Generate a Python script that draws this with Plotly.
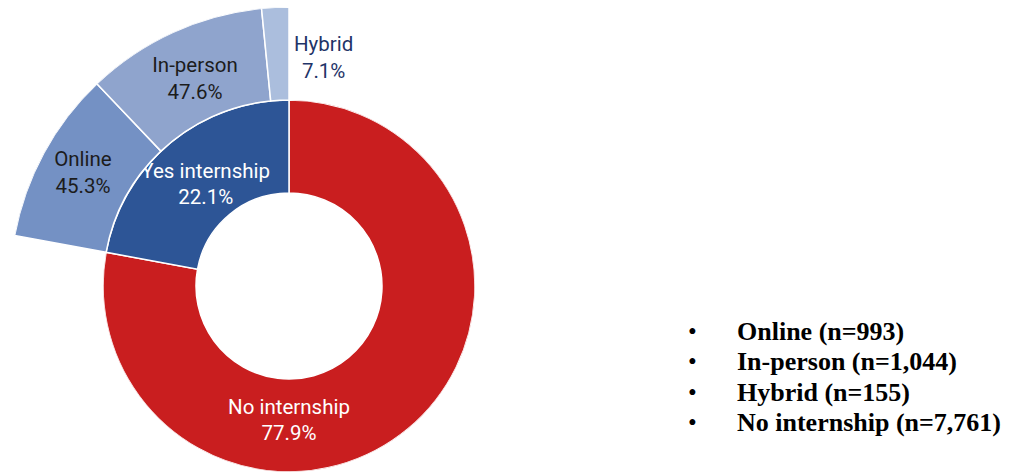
import plotly.graph_objects as go

# Inner ring: internship status (share of all students, %)
status_labels = ["No internship", "Yes internship"]
status_pct = [77.9, 22.1]
status_colors = ["#C91E1F", "#2D5596"]

# Outer ring: format of the internship (share of internships, %)
format_labels = ["Online", "In-person", "Hybrid"]
format_pct = [45.3, 47.6, 7.1]
format_colors = ["#7491C4", "#8FA4CD", "#ABBEDD"]

# Right-hand key with respondent counts
key_labels = ["Online", "In-person", "Hybrid", "No internship"]
key_counts = [993, 1044, 155, 7761]

W, H = 1010, 472
CX, CY = 289, 286          # ring centre, px from left / top
R1 = 186                   # outer radius of the inner ring, px
R2 = R1 * 1.5              # outer radius of the outer ring, px

# angles measured clockwise from 12 o'clock
status_width = [p * 3.6 for p in status_pct]
status_theta, start = [], 0.0
for w in status_width:
    status_theta.append(start + w / 2)
    start += w
yes_start = status_width[0]
yes_span = status_width[1]

format_width = [yes_span * p / 100 for p in format_pct]
format_theta, start = [], yes_start
for w in format_width:
    format_theta.append(start + w / 2)
    start += w

label_font = dict(family="Roboto", size=20.5)

fig = go.Figure()

fig.add_trace(go.Barpolar(
    r=[1, 1], base=[1, 1], theta=status_theta, width=status_width,
    marker=dict(color=status_colors, line=dict(color="white", width=1.5)),
    subplot="polar", hoverinfo="skip", showlegend=False,
))
fig.add_trace(go.Barpolar(
    r=[1, 1, 1], base=[2, 2, 2], theta=format_theta, width=format_width,
    marker=dict(color=format_colors, line=dict(color="white", width=1.5)),
    subplot="polar2", hoverinfo="skip", showlegend=False,
))

# ring labels
status_text = [f"{l}<br>{p}%" for l, p in zip(status_labels, status_pct)]
fig.add_trace(go.Scatterpolar(
    r=[1.46, 1.4], theta=[180, status_theta[1]], mode="text",
    text=status_text, textfont=dict(color="white", **label_font),
    subplot="polar", cliponaxis=False, hoverinfo="skip", showlegend=False,
))
format_text = [f"{l}<br>{p}%" for l, p in zip(format_labels, format_pct)]
fig.add_trace(go.Scatterpolar(
    r=[2.52, 2.43], theta=format_theta[:2], mode="text",
    text=format_text[:2], textfont=dict(color="#1c1c1c", **label_font),
    subplot="polar2", cliponaxis=False, hoverinfo="skip", showlegend=False,
))
# the thin Hybrid slice gets its label just outside, to the right
fig.add_annotation(
    x=(CX + 34) / W, y=1 - 57 / H, xref="paper", yref="paper",
    text=format_text[2], showarrow=False, xanchor="center", yanchor="middle",
    font=dict(color="#1F3468", **label_font),
)

hidden_radial = dict(visible=False, showgrid=False, showline=False, showticklabels=False, ticks="")
hidden_angular = dict(showgrid=False, showline=False, showticklabels=False, ticks="",
                      direction="clockwise", rotation=90)

fig.update_layout(
    width=W, height=H,
    margin=dict(l=0, r=0, t=0, b=0),
    paper_bgcolor="white", plot_bgcolor="white",
    polar=dict(
        domain=dict(x=[(CX - R1) / W, (CX + R1) / W],
                    y=[(H - CY - R1) / H, (H - CY + R1) / H]),
        radialaxis=dict(range=[0, 2], **hidden_radial),
        angularaxis=hidden_angular,
        bgcolor="rgba(0,0,0,0)",
    ),
    polar2=dict(
        sector=[90, 180],
        domain=dict(x=[(CX - R2) / W, CX / W],
                    y=[(H - CY) / H, (H - CY + R2) / H]),
        radialaxis=dict(range=[0, 3], **hidden_radial),
        angularaxis=hidden_angular,
        bgcolor="rgba(0,0,0,0)",
    ),
)

# bulleted key
key_font = dict(family="Liberation Serif", size=26, color="black")
for i, (lab, n) in enumerate(zip(key_labels, key_counts)):
    y_px = 331 + i * 30.5
    fig.add_annotation(x=692 / W, y=1 - y_px / H, xref="paper", yref="paper",
                       text="•", showarrow=False, xanchor="center", yanchor="middle",
                       font=dict(family="Liberation Serif", size=25, color="black"))
    fig.add_annotation(x=735 / W, y=1 - y_px / H, xref="paper", yref="paper",
                       text=f"<b>{lab} (n={n:,})</b>", showarrow=False,
                       xanchor="left", yanchor="middle", font=key_font)

fig.write_html("out.html")
